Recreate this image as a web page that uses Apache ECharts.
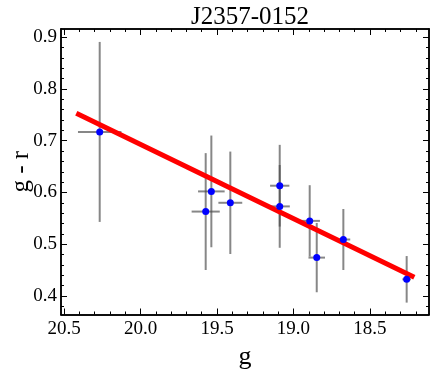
<!DOCTYPE html>
<html>
<head>
<meta charset="utf-8">
<script src="https://cdn.jsdelivr.net/npm/echarts@6/dist/echarts.min.js"></script>
<style>
  html, body { margin: 0; padding: 0; background: #fff; }
  #main { width: 436px; height: 370px; }
</style>
</head>
<body>
<div id="main"></div>
<script>
// measured points (g, g-r) with errors
var gVals  = [20.267, 19.574, 19.537, 19.413, 19.09, 19.09, 18.894, 18.848, 18.674, 18.26];
var grVals = [0.717, 0.563, 0.602, 0.580, 0.613, 0.573, 0.545, 0.474, 0.509, 0.432];
var gErr   = [0.142, 0.092, 0.087, 0.078, 0.063, 0.066, 0.067, 0.054, 0.045, 0.028];
var grErr  = [0.174, 0.113, 0.108, 0.099, 0.079, 0.080, 0.069, 0.067, 0.059, 0.045];

// fitted line ends
var fitG  = [20.42, 18.21];
var fitGR = [0.753, 0.436];

// tick labels
var xMajor = [18.5, 19.0, 19.5, 20.0, 20.5];
var xMinor = [18.2, 18.3, 18.4, 18.6, 18.7, 18.8, 18.9, 19.1, 19.2, 19.3, 19.4,
              19.6, 19.7, 19.8, 19.9, 20.1, 20.2, 20.3, 20.4];
var yMajor = [0.4, 0.5, 0.6, 0.7, 0.8, 0.9];
var yMinor = [0.38, 0.42, 0.44, 0.46, 0.48, 0.52, 0.54, 0.56, 0.58, 0.62, 0.64,
              0.66, 0.68, 0.72, 0.74, 0.76, 0.78, 0.82, 0.84, 0.86, 0.88, 0.9];

var xMin = 18.114, xMax = 20.52;
var yMin = 0.364, yMax = 0.916;
var serif = '"Liberation Serif", "DejaVu Serif", serif';

var pts = gVals.map(function (g, i) { return [g, grVals[i]]; });
var errs = gVals.map(function (g, i) { return [g, grVals[i], gErr[i], grErr[i]]; });
var fit = fitG.map(function (g, i) { return [g, fitGR[i]]; });

// one axis per tick set and side (ticks drawn inside on all four sides)
function xAx(pos, ticks, len, labels) {
    return {
        type: 'value', position: pos, inverse: true, min: xMin, max: xMax,
        axisLine: { show: true, onZero: false, lineStyle: { color: '#000', width: 1.5 } },
        axisTick: { show: true, inside: true, length: len, customValues: ticks,
                    lineStyle: { color: '#000', width: 1 } },
        axisLabel: labels ? { show: true, customValues: ticks, color: '#000',
                              fontFamily: serif, fontSize: 19, margin: 5,
                              formatter: function (v) { return v.toFixed(1); } }
                          : { show: false },
        splitLine: { show: false }
    };
}
function yAx(pos, ticks, len, labels) {
    return {
        type: 'value', position: pos, min: yMin, max: yMax,
        axisLine: { show: true, onZero: false, lineStyle: { color: '#000', width: 1.5 } },
        axisTick: { show: true, inside: true, length: len, customValues: ticks,
                    lineStyle: { color: '#000', width: 1 } },
        axisLabel: labels ? { show: true, customValues: ticks, color: '#000',
                              fontFamily: serif, fontSize: 19, margin: 4,
                              formatter: function (v) { return v.toFixed(1); } }
                          : { show: false },
        splitLine: { show: false }
    };
}

var xs = [xAx('bottom', xMajor, 6, true), xAx('bottom', xMinor, 3, false),
          xAx('top', xMajor, 6, false), xAx('top', xMinor, 3, false)];
xs[0].name = 'g';
xs[0].nameLocation = 'middle';
xs[0].nameGap = 30;
xs[0].nameMoveOverlap = false;
xs[0].nameTextStyle = { fontFamily: serif, fontSize: 26, color: '#000' };

var ys = [yAx('left', yMajor, 6, true), yAx('left', yMinor, 3, false),
          yAx('right', yMajor, 6, false), yAx('right', yMinor, 3, false)];
ys[0].name = 'g - r';
ys[0].nameLocation = 'middle';
ys[0].nameGap = 27;
ys[0].nameMoveOverlap = false;
ys[0].nameTextStyle = { fontFamily: serif, fontSize: 25, color: '#000' };

var chart = echarts.init(document.getElementById('main'));

var option = {
    animation: false,
    backgroundColor: '#fff',
    title: {
        text: 'J2357-0152',
        left: 245, top: 0, textAlign: 'center',
        textStyle: { fontFamily: serif, fontSize: 25, fontWeight: 'normal', color: '#000' }
    },
    grid: { left: 61, right: 7, top: 29, bottom: 55.5, outerBoundsMode: 'none' },
    xAxis: xs,
    yAxis: ys,
    series: [
        {
            type: 'custom',
            name: 'errors',
            z: 1,
            data: errs,
            renderItem: function (params, api) {
                var g = api.value(0), c = api.value(1), ex = api.value(2), ey = api.value(3);
                var l = api.coord([g + ex, c]), r = api.coord([g - ex, c]);
                var t = api.coord([g, c + ey]), b = api.coord([g, c - ey]);
                var st = { stroke: 'rgba(70,70,70,0.65)', lineWidth: 2 };
                return {
                    type: 'group',
                    children: [
                        { type: 'line', shape: { x1: l[0], y1: l[1], x2: r[0], y2: r[1] }, style: st },
                        { type: 'line', shape: { x1: t[0], y1: t[1], x2: b[0], y2: b[1] }, style: st }
                    ]
                };
            }
        },
        {
            type: 'line',
            name: 'fit',
            z: 2,
            data: fit,
            symbol: 'none',
            lineStyle: { color: '#ff0000', width: 5 }
        },
        {
            type: 'scatter',
            name: 'points',
            z: 3,
            data: pts,
            symbolSize: 7,
            itemStyle: { color: '#0000ff', opacity: 1 }
        }
    ]
};
chart.setOption(option, true);
</script>
</body>
</html>
